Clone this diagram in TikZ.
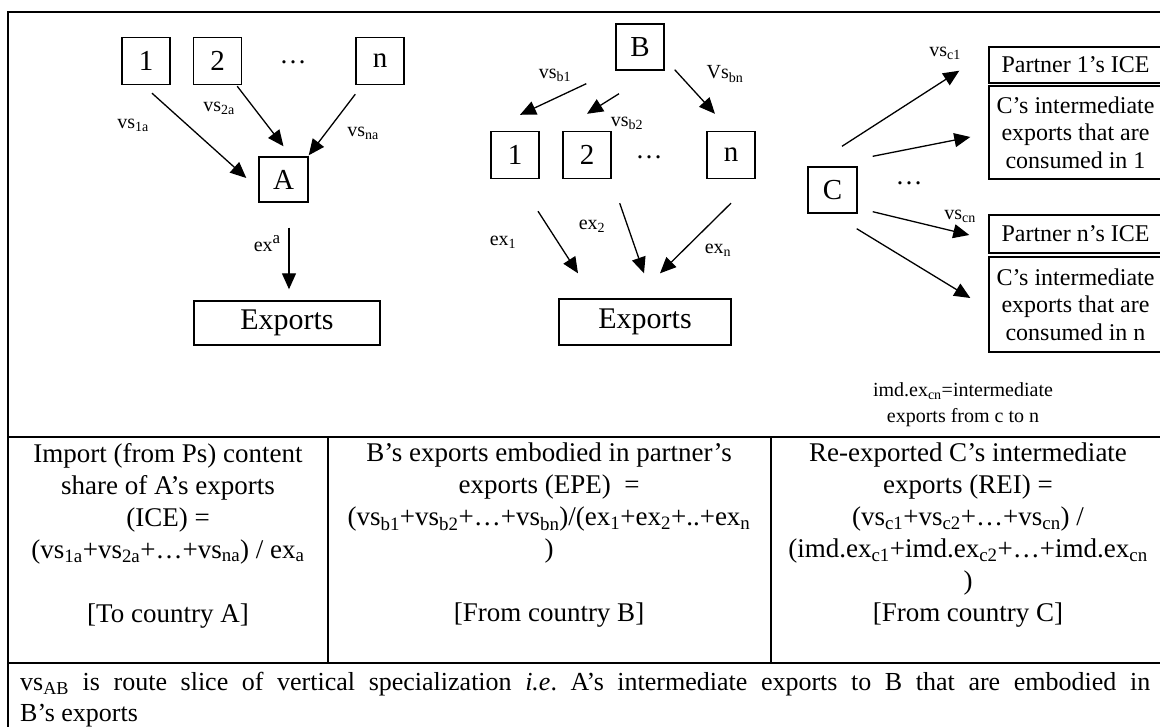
\documentclass[tikz,border=0pt]{standalone}
\usepackage{fontspec}
\setmainfont{Liberation Serif}
\usetikzlibrary{arrows.meta}
\begin{document}
\frenchspacing
\begin{tikzpicture}[x=1pt,y=-1pt,
  frame/.style={line width=2pt},
  box/.style={draw, line width=1.4pt, minimum width=48pt, minimum height=47pt,
    inner sep=0pt, font=\fontsize{29}{32}\selectfont},
  wide/.style={draw, line width=1.4pt, inner sep=0pt, font=\fontsize{30}{33}\selectfont},
  rbox/.style={draw, line width=1.4pt, inner sep=0pt, minimum width=173pt,
    align=center, font=\fontsize{24}{27.5}\selectfont},
  dots/.style={inner sep=0pt, font=\fontsize{27}{30}\selectfont},
  lbl/.style={inner sep=0pt, font=\fontsize{20}{24}\selectfont},
  cell/.style={inner sep=0pt, anchor=north, align=center, font=\fontsize{27}{32}\selectfont},
  arr/.style={line width=1.3pt, -{Triangle[length=16pt,width=14pt]}}]
\useasboundingbox (0,0) rectangle (1160,727);

% outer frame and table rules
\draw[frame] (8,740) -- (8,12) -- (1170,12);
\draw[frame] (8,437) -- (1170,437);
\draw[frame] (8,663) -- (1170,663);
\draw[frame] (328,437) -- (328,663);
\draw[frame] (771,437) -- (771,663);

% ---- left panel: imports into A
\node[box] (a1) at (146,61) {1};
\node[box] (a2) at (217.5,61) {2};
\node[dots] (ad) at (293,62) {…};
\node[box] (an) at (380,61) {n};
\node[box, minimum width=49pt, minimum height=45pt] (A) at (283.5,179.5) {A};
\node[wide, minimum width=186pt, minimum height=44pt] (ea) at (287,323) {Exports};

\draw[arr] ([shift={(6,8)}]a1.south) -- ([shift={(-12,-1.5)}]A.west);
\draw[arr] ([shift={(-5,1)}]a2.south east) -- ([shift={(0,-10)}]A.north);
\draw[arr] ([shift={(0,9)}]an.south west) -- ([shift={(0,-1)}]A.north east);
\draw[arr] ([shift={(5.5,25)}]A.south) -- ([shift={(2,-11)}]ea.north);

\node[lbl] (l1a) at (133,125) {vs\textsubscript{1a}};
\node[lbl] (l2a) at (219,108) {vs\textsubscript{2a}};
\node[lbl] (lna) at (363,133) {vs\textsubscript{na}};
\node[lbl] (lxa) at (267,244) {ex\raisebox{8pt}{\fontsize{17}{17}\selectfont a}};

% ---- middle panel: exports of B
\node[box, minimum height=46pt] (B) at (640,47) {B};
\node[box] (b1) at (515,155) {1};
\node[box] (b2) at (587,155) {2};
\node[dots] (bd) at (649,157) {…};
\node[box] (bn) at (731,155) {n};
\node[wide, minimum width=172pt, minimum height=46pt] (eb) at (645,322) {Exports};

\draw[arr] ([shift={(-29,13)}]B.south west) -- ([shift={(5,-16)}]b1.north);
\draw[arr] ([shift={(-21,23)}]B.south) -- ([shift={(0,-17)}]b2.north);
\draw[arr] ([shift={(10,-1)}]B.south east) -- ([shift={(-16,-17)}]bn.north);
\draw[arr] ([shift={(23,32)}]b1.south) -- ([shift={(-67,-25)}]eb.north);
\draw[arr] ([shift={(8,24)}]b2.south east) -- ([shift={(-1,-25)}]eb.north);
\draw[arr] ([shift={(0,24)}]bn.south) -- ([shift={(15,-25)}]eb.north);

\node[lbl] (lb1) at (555,75) {vs\textsubscript{b1}};
\node[lbl] (lb2) at (627,123) {vs\textsubscript{b2}};
\node[lbl] (lbn) at (725,74) {Vs\textsubscript{bn}};
\node[lbl] (lx1) at (503,242) {ex\textsubscript{1}};
\node[lbl] (lx2) at (592,226) {ex\textsubscript{2}};
\node[lbl] (lxn) at (718,250) {ex\textsubscript{n}};

% ---- right panel: intermediate exports of C
\node[box, minimum width=49pt, minimum height=46pt] (C) at (832.5,190) {C};
\node[dots] (cd) at (909,183) {…};
\node[rbox, minimum height=36pt] (p1) at (1075.5,65) {Partner 1’s ICE};
\node[rbox, minimum height=93pt] (c1) at (1075.5,132.5) {C’s intermediate\\exports that are\\consumed in 1};
\node[rbox, minimum height=38pt] (pn) at (1075.5,234) {Partner n’s ICE};
\node[rbox, minimum height=95pt] (cn) at (1075.5,304.5) {C’s intermediate\\exports that are\\consumed in n};

\draw[arr] ([shift={(9.5,-20)}]C.north) -- ([shift={(-29,-13)}]p1.south west);
\draw[arr] ([shift={(15,-10)}]C.north east) -- ([shift={(-18,4.5)}]c1.west);
\draw[arr] ([shift={(15,-2)}]C.south east) -- ([shift={(-19,1)}]pn.west);
\draw[arr] ([shift={(-1,15)}]C.south east) -- ([shift={(-18,-6.5)}]cn.west);

\node[lbl] (lc1) at (945,53) {vs\textsubscript{c1}};
\node[lbl] (lcn) at (960,216) {vs\textsubscript{cn}};
\node[lbl, align=center, font=\fontsize{20}{26}\selectfont] (imd) at (963,405)
  {imd.ex\textsubscript{cn}=intermediate\\exports from c to n};

% ---- table of definitions
\node[cell] (t1) at (168,443) {Import (from Ps) content\\share of A’s exports\\(ICE) =\\
  (vs\textsubscript{1a}+vs\textsubscript{2a}+…+vs\textsubscript{na}) / ex\textsubscript{a}\\[32pt]
  {[To country A]}};
\node[cell] (t2) at (549,443) {B’s exports embodied in partner’s\\exports (EPE)~ =\\
  (vs\textsubscript{b1}+vs\textsubscript{b2}+…+vs\textsubscript{bn})/(ex\textsubscript{1}+ex\textsubscript{2}+..+ex\textsubscript{n}\\
  )\\[32pt]
  {[From country B]}};
\node[cell] (t3) at (968,443) {Re-exported C’s intermediate\\exports (REI) =\\
  (vs\textsubscript{c1}+vs\textsubscript{c2}+…+vs\textsubscript{cn}) /\\
  (imd.ex\textsubscript{c1}+imd.ex\textsubscript{c2}+…+imd.ex\textsubscript{cn}\\
  )\\
  {[From country C]}};
\node[inner sep=0pt, anchor=north west, text width=1130pt, align=justify,
  font=\fontsize{26}{31}\selectfont] (note) at (20,672)
  {vs\textsubscript{AB} is route slice of vertical specialization \textit{i.e}. A’s intermediate exports to B that are embodied in\linebreak B’s exports};
\end{tikzpicture}
\end{document}
